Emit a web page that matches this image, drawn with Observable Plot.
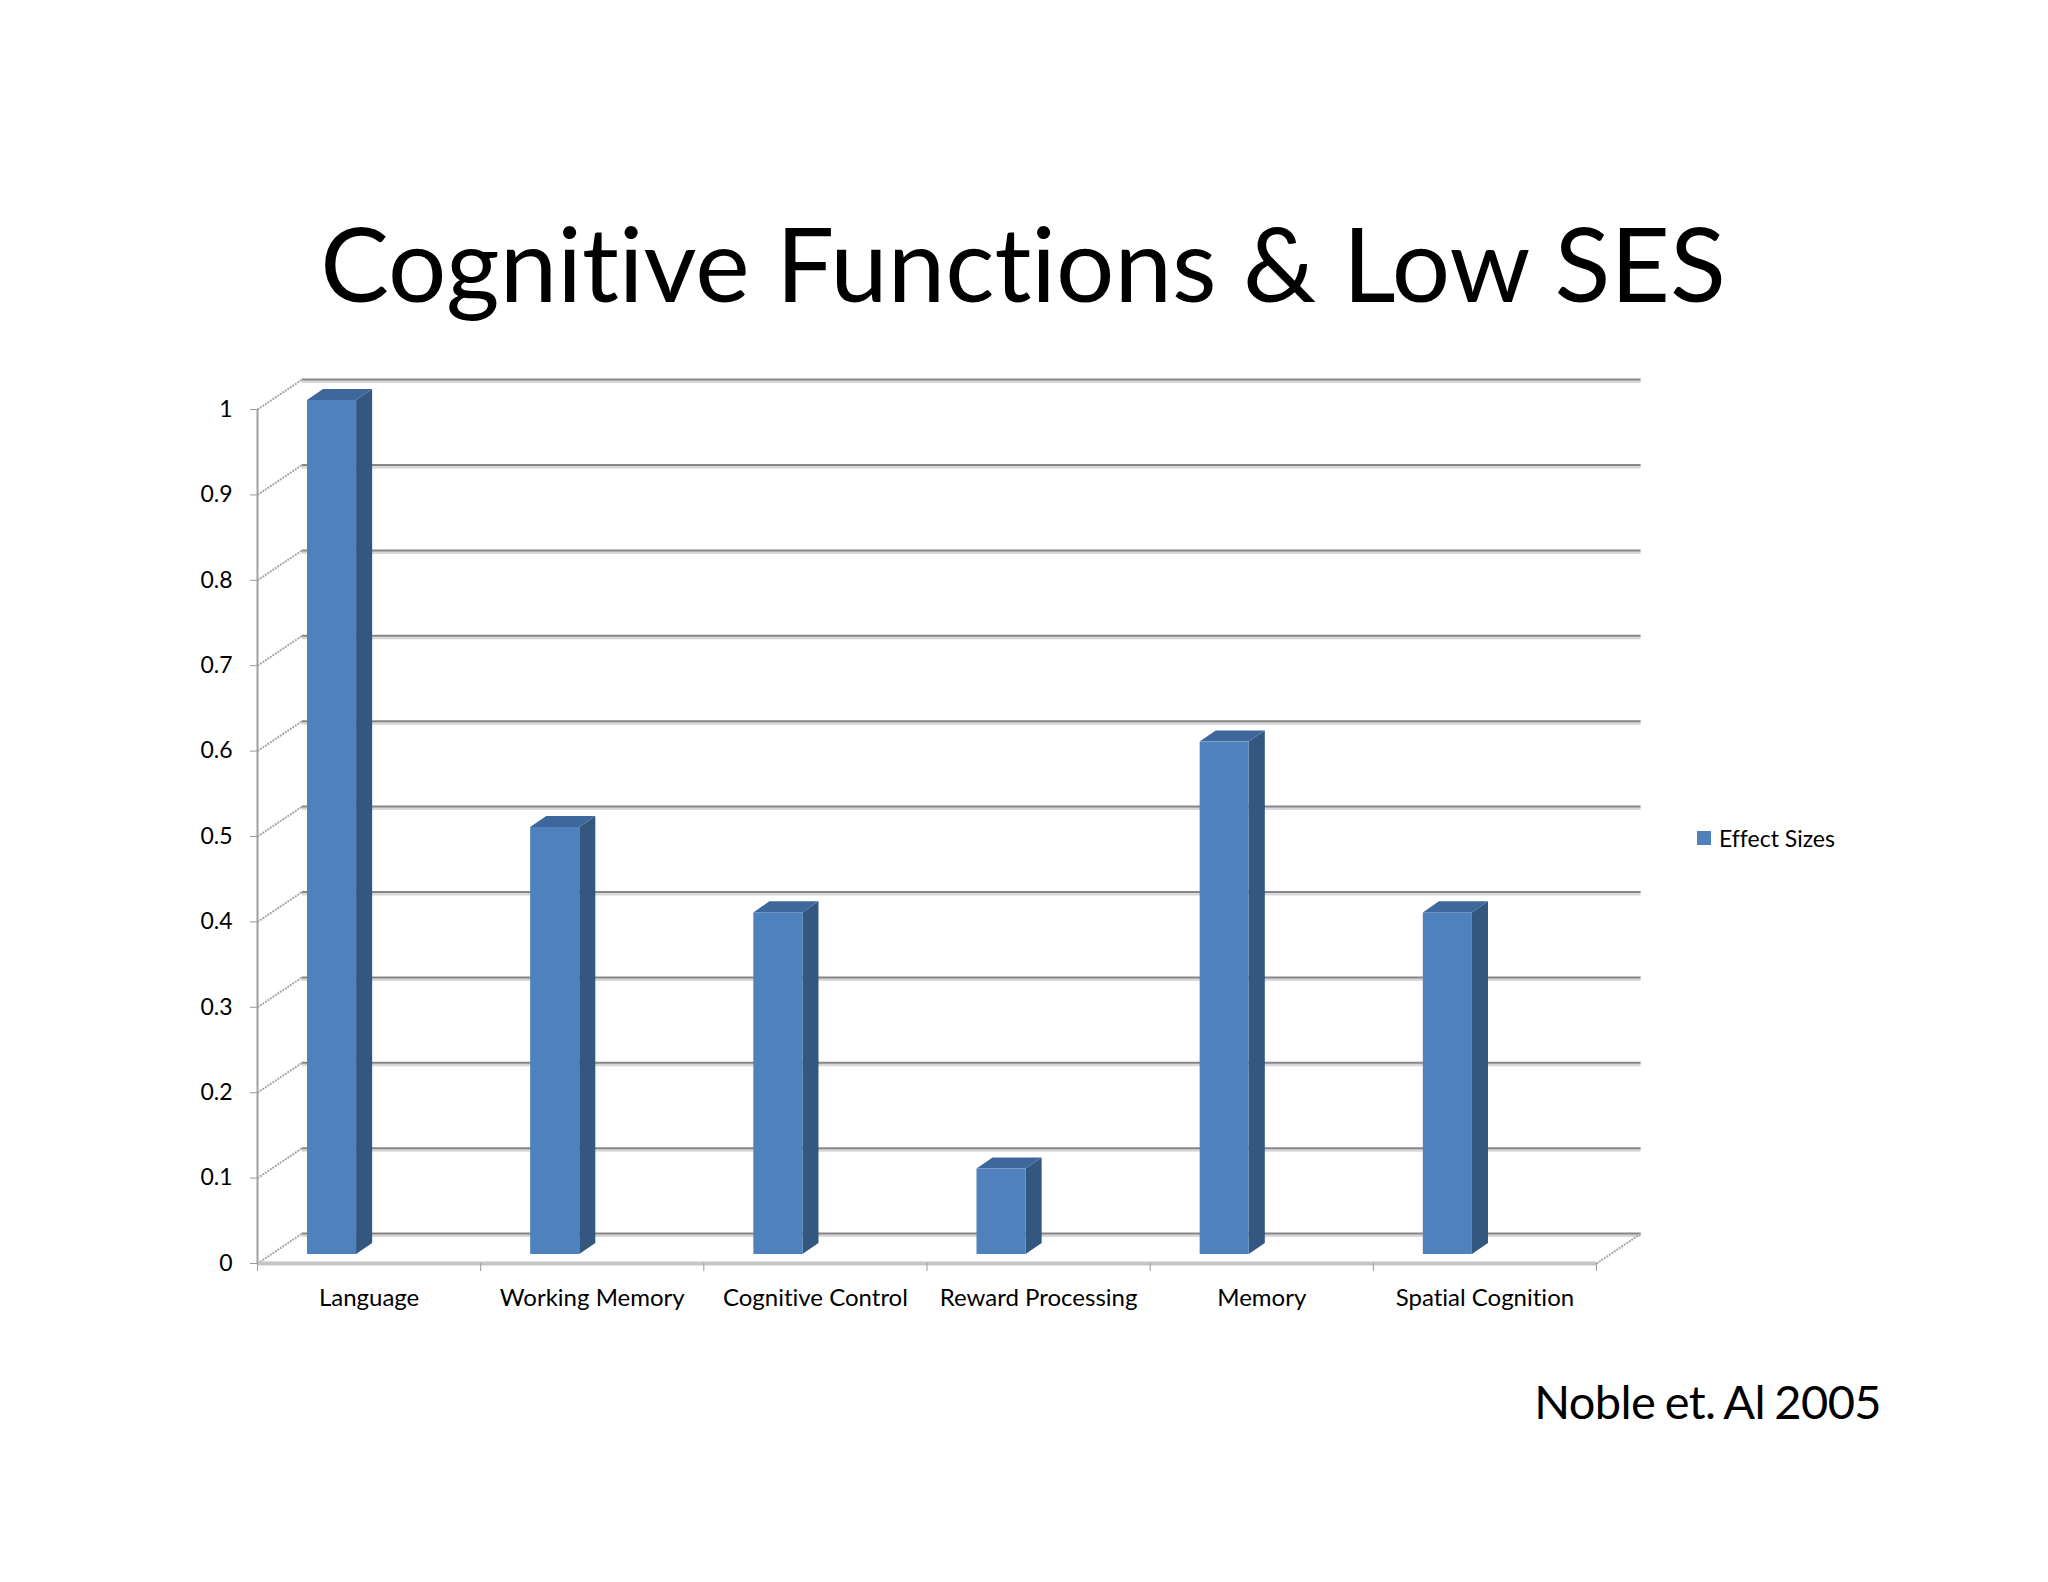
<!DOCTYPE html>
<html>
<head>
<meta charset="utf-8">
<script src="https://cdn.jsdelivr.net/npm/d3@7"></script>
<script src="https://cdn.jsdelivr.net/npm/@observablehq/plot@0.6"></script>
<style>
  html, body { margin: 0; padding: 0; background: #fff; }
  #stage { position: relative; width: 2048px; height: 1582px; overflow: hidden; font-family: Lato, "Open Sans", sans-serif; font-variant-ligatures: none; }
  #stage svg { position: absolute; left: 0; top: 0; font-variant-ligatures: none; }
  .title { position: absolute; left: 0; width: 2046px; top: 201px; text-align: center; font-size: 103px; line-height: 1.2; color: #000; }
  .caption { position: absolute; right: 167px; top: 1373px; font-size: 47px; letter-spacing: -0.6px; word-spacing: -2px; line-height: 1.2; color: #000; }
  .legend { position: absolute; left: 1697px; top: 824px; height: 28px; display: flex; align-items: center; font-size: 23px; color: #000; }
  .legend .sw { width: 14px; height: 14px; background: #4f81bd; margin-right: 8px; }
</style>
</head>
<body>
<div id="stage">
  <div class="title">Cognitive Functions &amp; Low SES</div>
  <div class="legend"><span class="sw"></span><span>Effect Sizes</span></div>
  <div class="caption">Noble et. Al 2005</div>
</div>
<script>
// ---- data ----
const categories = ["Language", "Working Memory", "Cognitive Control", "Reward Processing", "Memory", "Spatial Cognition"];
const effectSizes = [1.0, 0.5, 0.4, 0.1, 0.6, 0.4];
const yTicks = [0, 0.1, 0.2, 0.3, 0.4, 0.5, 0.6, 0.7, 0.8, 0.9, 1];
const yTickLabels = ["0", "0.1", "0.2", "0.3", "0.4", "0.5", "0.6", "0.7", "0.8", "0.9", "1"];

// ---- 3D look (in scale units: x = category slots, y = effect size) ----
const wallDX = 0.2, wallDY = 0.035;     // depth of the back wall
const barOff = 0.224, barW = 0.22;      // front face position inside the slot
const barDX = 0.072, barDY = 0.013;     // depth of each bar
const barLift = -9;                     // bars sit in the middle of the floor depth
const frontColor = "#4f81bd", sideColor = "#34577f", topColor = "#3e679b";

const n = categories.length;
const idx = d3.range(n);

const sideData = idx.flatMap(i => [
  {i, x: i + barOff + barW, y1: 0, y2: effectSizes[i]},
  {i, x: i + barOff + barW + barDX, y1: barDY, y2: effectSizes[i] + barDY}
]);
const topData = idx.flatMap(i => [
  {i, y: effectSizes[i], x1: i + barOff, x2: i + barOff + barW},
  {i, y: effectSizes[i] + barDY, x1: i + barOff + barDX, x2: i + barOff + barW + barDX}
]);

const chart = Plot.plot({
  width: 2048,
  height: 1582,
  marginLeft: 257,
  marginRight: 452,
  marginTop: 409,
  marginBottom: 319,
  style: {fontFamily: "Lato, 'Open Sans', sans-serif", fontSize: "23px", color: "#000", background: "transparent"},
  x: {type: "linear", domain: [0, n], axis: null},
  y: {domain: [0, 1], axis: null},
  marks: [
    // back wall grid lines (with soft shadow)
    Plot.ruleY(yTicks, {y: d => d + wallDY, x1: wallDX, x2: n + wallDX, stroke: "#d8d8d8", strokeWidth: 3, dy: 2}),
    Plot.ruleY(yTicks, {y: d => d + wallDY, x1: wallDX, x2: n + wallDX, stroke: "#878787", strokeWidth: 2}),
    // side wall diagonals
    Plot.link(yTicks, {x1: 0, y1: d => d, x2: wallDX, y2: d => d + wallDY, stroke: "#a8a8a8", strokeWidth: 2, strokeDasharray: "2,1"}),
    // floor right edge
    Plot.link([0], {x1: n, y1: 0, x2: n + wallDX, y2: wallDY, stroke: "#a8a8a8", strokeWidth: 2, strokeDasharray: "2,1"}),
    // floor front edge
    Plot.ruleY([0], {x1: 0, x2: n, stroke: "#c6c6c6", strokeWidth: 4}),
    // y axis line
    Plot.ruleX([0], {y1: 0, y2: 1, stroke: "#a0a0a0", strokeWidth: 2}),
    // y ticks and labels
    Plot.axisY(yTicks, {anchor: "left", tickSize: 7, tickPadding: 18, stroke: "#9a9a9a", fill: "#000", fontSize: 23, tickFormat: (d, i) => yTickLabels[i]}),
    // x tick marks at category boundaries
    Plot.axisX(d3.range(n + 1), {anchor: "bottom", tickSize: 8, stroke: "#9a9a9a", tickFormat: () => ""}),
    // category labels
    Plot.text(categories, {x: (d, i) => i + 0.5, frameAnchor: "bottom", dy: 42, text: d => d, fontSize: 24, fill: "#000"}),
    // bars: side, top, front
    Plot.areaY(sideData, {x: "x", y1: "y1", y2: "y2", z: "i", fill: sideColor, dy: barLift}),
    Plot.areaX(topData, {y: "y", x1: "x1", x2: "x2", z: "i", fill: topColor, dy: barLift}),
    Plot.rectY(effectSizes, {x1: (d, i) => i + barOff, x2: (d, i) => i + barOff + barW, y1: 0, y2: d => d, fill: frontColor, dy: barLift, insetLeft: 0, insetRight: 0})
  ]
});
document.getElementById("stage").prepend(chart);
</script>
</body>
</html>
